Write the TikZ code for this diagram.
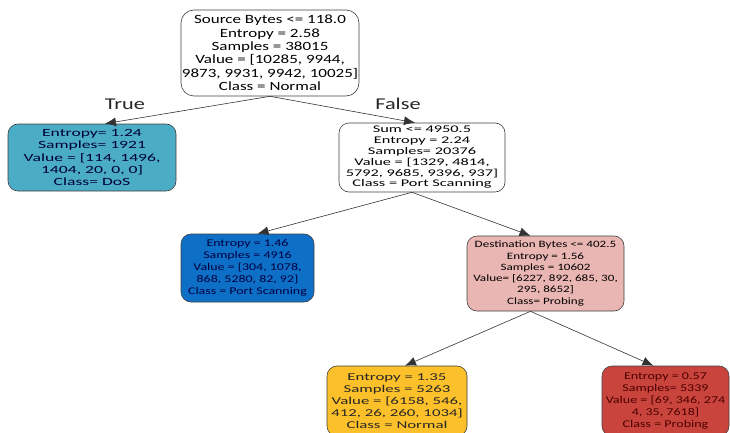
\documentclass[tikz,border=0pt]{standalone}
\usepackage{fontspec}
\setmainfont{Carlito}
\newfontfamily\widea[FakeStretch=1.35]{Carlito}
\newfontfamily\wideb[FakeStretch=1.6]{Carlito}
\usetikzlibrary{arrows.meta}
\definecolor{dosc}{HTML}{4BACC6}
\definecolor{portc}{HTML}{0D6FC6}
\definecolor{destc}{HTML}{E9B6B3}
\definecolor{normc}{HTML}{FCC02B}
\definecolor{probc}{HTML}{C8443C}
\tikzset{
  treenode/.style={draw=black!75, line width=0.6pt, rounded corners=10pt, align=center, inner sep=0pt},
  edge/.style={draw=black!80, line width=0.6pt, -{Latex[length=11pt,width=9pt]}},
  lbl/.style={font=\widea\fontsize{16.5}{18}\selectfont, text=black!85}
}
\begin{document}
\begin{tikzpicture}[x=1pt,y=-1pt]
\useasboundingbox (0,0) rectangle (730,433);
\clip (0,0) rectangle (730,433);
\node[treenode, fill=white, rounded corners=13pt, minimum width=178pt, minimum height=86pt,
  font=\widea\fontsize{12.6}{13.4}\selectfont] (root) at (270,53)
  {Source Bytes <= 118.0\\Entropy = 2.58\\Samples = 38015\\Value = [10285, 9944,\\9873, 9931, 9942, 10025]\\Class = Normal};
\node[treenode, fill=dosc, minimum width=168pt, minimum height=67pt,
  font=\wideb\fontsize{11}{12.2}\selectfont, text=black!80!blue] (dos) at (92,157.5)
  {Entropy= 1.24\\Samples= 1921\\Value = [114, 1496,\\1404, 20, 0, 0]\\Class= DoS};
\node[treenode, fill=white, minimum width=166pt, minimum height=69pt,
  font=\wideb\fontsize{10.2}{10.8}\selectfont] (sum) at (422,157.5)
  {Sum <= 4950.5\\Entropy = 2.24\\Samples= 20376\\Value = [1329, 4814,\\5792, 9685, 9396, 937]\\Class = Port Scanning};
\node[treenode, fill=portc, minimum width=133pt, minimum height=68pt,
  font=\widea\fontsize{10.3}{12}\selectfont, text=black!75!blue] (port) at (247.5,268)
  {Entropy = 1.46\\Samples = 4916\\Value = [304, 1078,\\868, 5280, 82, 92]\\Class = Port Scanning};
\node[treenode, fill=destc, minimum width=157pt, minimum height=75pt,
  font=\widea\fontsize{9.7}{11.3}\selectfont] (dest) at (545.5,273.5)
  {Destination Bytes <= 402.5\\Entropy = 1.56\\Samples = 10602\\Value= [6227, 892, 685, 30,\\295, 8652]\\Class= Probing};
\node[treenode, fill=normc, minimum width=140pt, minimum height=70pt,
  font=\wideb\fontsize{10.5}{12}\selectfont, text=black!85] (norm) at (397,401)
  {Entropy = 1.35\\Samples = 5263\\Value = [6158, 546,\\412, 26, 260, 1034]\\Class = Normal};
\node[treenode, fill=probc, minimum width=127pt, minimum height=70pt,
  font=\widea\fontsize{10.4}{12}\selectfont, text=black!70!red] (prob) at (665.5,401)
  {Entropy = 0.57\\Samples= 5339\\Value = [69, 346, 274\\4, 35, 7618]\\Class = Probing};
\draw[edge] (root.south) -- ([xshift=13pt]dos.north);
\draw[edge] (root.south) -- ([xshift=-7pt]sum.north);
\draw[edge] ([xshift=-10pt]sum.south) -- ([xshift=10pt]port.north);
\draw[edge] ([xshift=-10pt]sum.south) -- ([xshift=-15pt]dest.north);
\draw[edge] ([xshift=-15pt]dest.south) -- ([xshift=8pt]norm.north);
\draw[edge] ([xshift=-15pt]dest.south) -- ([xshift=-12pt]prob.north);
\node[lbl] (t) at (125,104) {True};
\node[lbl] (f) at (398,104) {False};
\end{tikzpicture}
\end{document}
